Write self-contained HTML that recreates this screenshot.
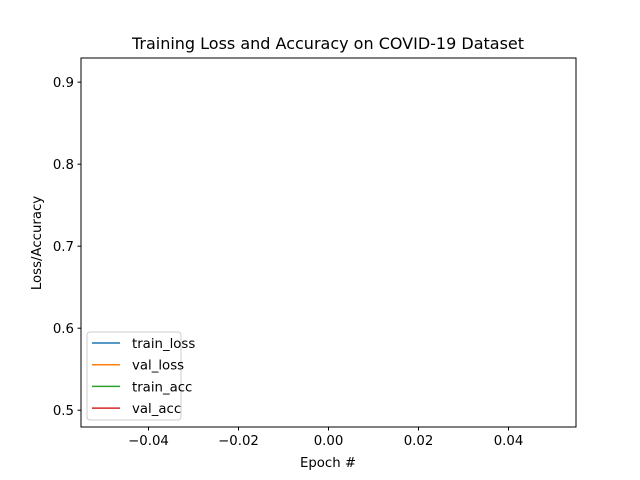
<!DOCTYPE html>
<html><head><meta charset="utf-8"><style>
body{margin:0;background:#fff}
svg{display:block;font-family:"DejaVu Sans","Liberation Sans",sans-serif}
</style></head><body>
<svg id="chart" width="640" height="480" viewBox="0 0 640 480">
<rect width="640" height="480" fill="#fff"/>
<text x="328" y="49" font-size="16" text-anchor="middle">Training Loss and Accuracy on COVID-19 Dataset</text>
<g id="plot"></g>
<rect x="81" y="58" width="495" height="369" fill="none" stroke="#000" stroke-width="1"/>
<text x="328" y="467" font-size="13.3" text-anchor="middle">Epoch #</text>
<text transform="translate(41,243) rotate(-90)" font-size="13.3" text-anchor="middle">Loss/Accuracy</text>
<g>
<rect x="87" y="332" width="94" height="88" rx="3" fill="#fff" fill-opacity="0.8" stroke="#ccc"/>
<g id="legend-items"></g>
</g>
</svg>
<script>
const epochs=[0];
const seriesNames=["train_loss","val_loss","train_acc","val_acc"];
const trainLoss=[0.69];
const valLoss=[0.50];
const trainAcc=[0.55];
const valAcc=[0.909];
const xTicks=[-0.04,-0.02,0.00,0.02,0.04];
const yTicks=[0.5,0.6,0.7,0.8,0.9];
const colors=["#1f77b4","#ff7f0e","#2ca02c","#d62728"];
const NS="http://www.w3.org/2000/svg";
const L=81,R=576,T=58,B=427;
const all=[trainLoss,valLoss,trainAcc,valAcc];
let ymin=Math.min(...all.flat()),ymax=Math.max(...all.flat());
let yr=ymax-ymin||1; const y0=ymin-0.05*yr,y1=ymax+0.05*yr;
let xmin=Math.min(...epochs),xmax=Math.max(...epochs);
let x0,x1; if(xmax===xmin){x0=xmin-0.055;x1=xmax+0.055;}else{const xr=xmax-xmin;x0=xmin-0.05*xr;x1=xmax+0.05*xr;}
const sx=v=>L+(v-x0)/(x1-x0)*(R-L);
const sy=v=>B-(v-y0)/(y1-y0)*(B-T);
const plot=document.getElementById('plot');
function mk(tag,attrs,parent){const e=document.createElementNS(NS,tag);for(const k in attrs)e.setAttribute(k,attrs[k]);parent.appendChild(e);return e;}
xTicks.forEach(t=>{const x=sx(t);
 const ln=mk('line',{x1:x,x2:x,y1:B,y2:B+3.5,stroke:'#000'},plot);
 
 
 const tx=mk('text',{x:x,y:B+18,'font-size':'13.3','text-anchor':'middle'},plot);
 tx.textContent=(t<0?'\u2212':'')+Math.abs(t).toFixed(2);
 
 
});
yTicks.forEach(t=>{const y=sy(t);
 const ln=mk('line',{x1:L-3.5,x2:L,y1:y,y2:y,stroke:'#000'},plot);
 
 
 const tx=mk('text',{x:L-7,y:y+5,'font-size':'13.3','text-anchor':'end'},plot);
 tx.textContent=t.toFixed(1);
 
 
});
all.forEach((s,i)=>{
 const pts=s.map((v,j)=>sx(epochs[j])+','+sy(v)).join(' ');
 const pl=mk('polyline',{points:pts,fill:'none',stroke:colors[i],'stroke-width':1.5},plot);
 
 
});
const lg=document.getElementById('legend-items');
seriesNames.forEach((n,i)=>{const y=343+i*21.7;
 const ln=mk('line',{x1:92,x2:120,y1:y,y2:y,stroke:colors[i],'stroke-width':1.5},lg);
 
 
 const tx=mk('text',{x:132,y:y+5,'font-size':'13.3'},lg);
 tx.textContent=n;
 
 
});
</script>
</body></html>
